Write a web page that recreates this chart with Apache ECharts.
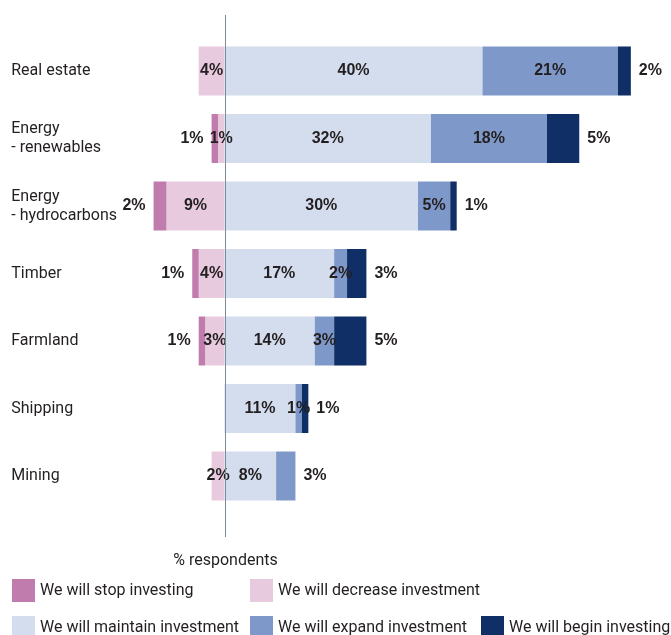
<!DOCTYPE html>
<html>
<head>
<meta charset="utf-8">
<title>Investment intentions by asset class</title>
<script src="https://cdn.jsdelivr.net/npm/echarts@6/dist/echarts.min.js"></script>
<style>
  html, body { margin: 0; padding: 0; background: #ffffff; }
  #chart { width: 671px; height: 635px; }
</style>
</head>
<body>
<div id="chart"></div>
<script>
// Asset classes, top to bottom
const categories = [
  'Real estate',
  'Energy\n- renewables',
  'Energy\n- hydrocarbons',
  'Timber',
  'Farmland',
  'Shipping',
  'Mining'
];

// Share of respondents (%) per intention
const stopInvesting      = [0, 1, 2, 1, 1, 0, 0];
const decreaseInvestment = [4, 1, 9, 4, 3, 0, 2];
const maintainInvestment = [40, 32, 30, 17, 14, 11, 8];
const expandInvestment   = [21, 18, 5, 2, 3, 1, 3];
const beginInvesting     = [2, 5, 1, 3, 5, 1, 0];

const seriesNames = {
  stop: 'We will stop investing',
  decrease: 'We will decrease investment',
  maintain: 'We will maintain investment',
  expand: 'We will expand investment',
  begin: 'We will begin investing'
};

const colors = {
  stop: '#c17cae',
  decrease: '#e8cadf',
  maintain: '#d3ddee',
  expand: '#7e99c9',
  begin: '#0f2f66'
};

const TEXT = '#231f20';
const FONT = "Roboto, 'Liberation Sans', sans-serif";
const VALUE_FONT = "'Liberation Sans', Arial, sans-serif";

const valueLabel = {
  show: true,
  color: TEXT,
  fontFamily: VALUE_FONT,
  fontWeight: 'bold',
  fontSize: 16,
  formatter: p => (p.value === 0 ? '' : Math.abs(p.value) + '%')
};

// Build one stacked series; negative values extend left of zero
function makeSeries(key, values, sign, labelFor) {
  return {
    name: seriesNames[key],
    type: 'bar',
    stack: 'total',
    barWidth: 49,
    itemStyle: { color: colors[key] },
    emphasis: { disabled: true },
    label: Object.assign({}, valueLabel, { position: 'inside' }),
    data: values.map((v, i) => {
      const item = { value: sign * v };
      const lab = labelFor ? labelFor(i) : null;
      if (lab) item.label = lab;
      return item;
    })
  };
}

const outsideLeft = { position: 'left', distance: 8 };
const outsideRight = { position: 'right', distance: 8 };

const series = [
  // decrease sits next to zero, stop further out
  makeSeries('decrease', decreaseInvestment, -1),
  makeSeries('stop', stopInvesting, -1, () => outsideLeft),
  makeSeries('maintain', maintainInvestment, 1),
  makeSeries('expand', expandInvestment, 1, i => (beginInvesting[i] === 0 ? outsideRight : null)),
  makeSeries('begin', beginInvesting, 1, () => outsideRight)
];

// Legend laid out as a two-row grid of single entries
function legendEntry(name, left, top) {
  return {
    data: [name],
    left: left,
    top: top,
    icon: 'rect',
    itemWidth: 23,
    itemHeight: 23,
    padding: 0,
    selectedMode: false,
    textStyle: { color: TEXT, fontFamily: FONT, fontSize: 16 }
  };
}

const chart = echarts.init(document.getElementById('chart'), null, { renderer: 'canvas' });

chart.setOption({
  animation: false,
  grid: { left: 63.25, right: 27.25, top: 37.25, bottom: 125.25, containLabel: false },
  xAxis: {
    type: 'value',
    min: -25,
    max: 65,
    show: false
  },
  yAxis: {
    type: 'category',
    data: categories,
    inverse: true,
    axisLine: { show: false },
    axisTick: { show: false },
    axisLabel: {
      align: 'left',
      margin: 52,
      color: TEXT,
      fontFamily: FONT,
      fontSize: 16,
      lineHeight: 19
    }
  },
  legend: [
    legendEntry(seriesNames.stop, 12, 579),
    legendEntry(seriesNames.decrease, 250, 579),
    legendEntry(seriesNames.maintain, 12, 616),
    legendEntry(seriesNames.expand, 250, 616),
    legendEntry(seriesNames.begin, 481, 616)
  ],
  series: series
});

// Zero line and axis caption, placed at the zero position of the value axis
const zeroX = Math.round(chart.convertToPixel({ xAxisIndex: 0 }, 0)) + 0.5;
chart.setOption({
  graphic: [
    {
      type: 'line',
      shape: { x1: zeroX, y1: 15, x2: zeroX, y2: 537 },
      style: { stroke: '#7d8a97', lineWidth: 1 },
      z: 10,
      silent: true
    },
    {
      type: 'text',
      x: zeroX,
      y: 561,
      style: {
        text: '% respondents',
        fill: TEXT,
        font: '16px ' + FONT,
        textAlign: 'center',
        textVerticalAlign: 'middle'
      },
      silent: true
    }
  ]
});
</script>
</body>
</html>
